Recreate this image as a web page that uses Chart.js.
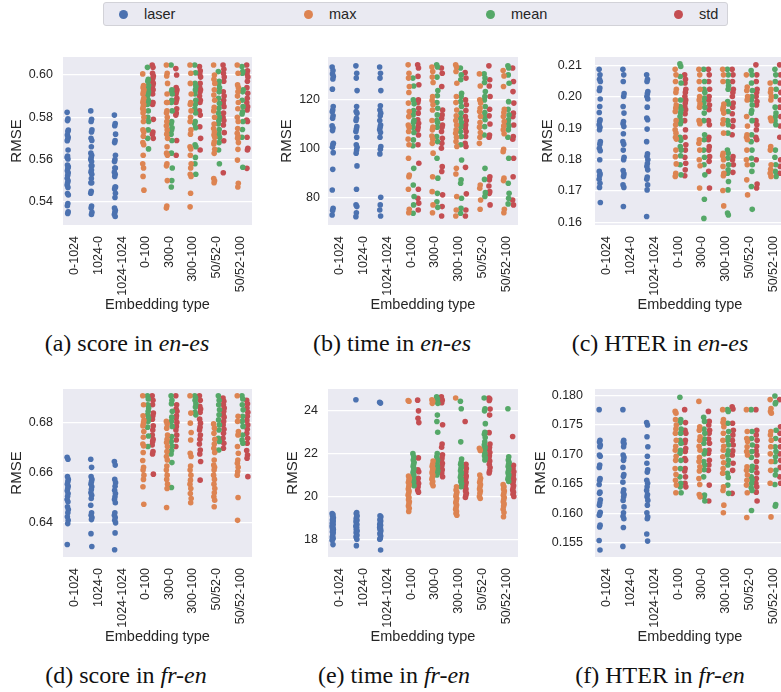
<!DOCTYPE html>
<html>
<head>
<meta charset="utf-8">
<script src="https://cdn.jsdelivr.net/npm/chart.js@4.4.0/dist/chart.umd.min.js"></script>
<style>
  html, body { margin: 0; padding: 0; background: #fff; }
  body { width: 781px; height: 692px; position: relative; overflow: hidden; font-family: "Liberation Sans", Arial, sans-serif; }
  .panel { position: absolute; }
  #leyenda { position: absolute; left: 103px; top: 2px; width: 623px; height: 22px; background: #eaeaf2; border: 1px solid #d2d2d8; border-radius: 3px; }
  #leyenda .item { position: absolute; top: 0; height: 22px; line-height: 22px; font-size: 14.5px; color: #262626; }
  #leyenda .punto { display: inline-block; width: 9px; height: 9px; border-radius: 50%; vertical-align: middle; margin-right: 16px; position: relative; top: -1px; }
  .caption { position: absolute; width: 270px; text-align: center; font-family: "Liberation Serif", "DejaVu Serif", serif; font-size: 24px; color: #111; }
</style>
</head>
<body>

<div id="leyenda"></div>

<canvas id="panelA" class="panel" width="258" height="278" style="left:0px; top:40px;"></canvas>
<canvas id="panelB" class="panel" width="254" height="278" style="left:270px; top:40px;"></canvas>
<canvas id="panelC" class="panel" width="262" height="278" style="left:527px; top:40px;"></canvas>
<canvas id="panelD" class="panel" width="258" height="278" style="left:0px; top:372px;"></canvas>
<canvas id="panelE" class="panel" width="254" height="278" style="left:270px; top:372px;"></canvas>
<canvas id="panelF" class="panel" width="262" height="278" style="left:527px; top:372px;"></canvas>

<div class="caption" style="left:-8px; top:330px;">(a) score in <i>en-es</i></div>
<div class="caption" style="left:257px; top:330px;">(b) time in <i>en-es</i></div>
<div class="caption" style="left:525px; top:330px;">(c) HTER in <i>en-es</i></div>
<div class="caption" style="left:-9px; top:662px;">(d) score in <i>fr-en</i></div>
<div class="caption" style="left:259px; top:662px;">(e) time in <i>fr-en</i></div>
<div class="caption" style="left:525px; top:662px;">(f) HTER in <i>fr-en</i></div>

<script>
// categorias del eje x y grupos (hue)
const categories = ['0-1024', '1024-0', '1024-1024', '0-100', '300-0', '300-100', '50/52-0', '50/52-100'];
const hueNames = ['laser', 'max', 'mean', 'std'];
const hueColors = ['#4c72b0', '#dd8452', '#55a868', '#c44e52'];

// ---- score, en-es ----
const scoreEnEsLaser = [
  [0.5823,0.5792,0.5784,0.5739,0.5732,0.5716,0.5705,0.5696,0.5689,0.5645,0.5616,0.5610,0.5602,0.5574,0.5566,0.5558,0.5547,0.5537,0.5526,0.5511,0.5499,0.5490,0.5479,0.5468,0.5439,0.5432,0.5392,0.5381,0.5353,0.5345],
  [0.583,0.579,0.578,0.574,0.573,0.570,0.569,0.566,0.563,0.562,0.561,0.560,0.559,0.557,0.557,0.555,0.554,0.553,0.551,0.549,0.549,0.545,0.544,0.538,0.537,0.535,0.534],
  [0.581,0.577,0.576,0.572,0.569,0.568,0.562,0.560,0.559,0.556,0.556,0.554,0.553,0.552,0.547,0.547,0.546,0.544,0.542,0.537,0.536,0.535,0.534,0.533]
];
const scoreEnEsMax = [
  [0.6005,0.595,0.594,0.593,0.592,0.591,0.589,0.588,0.587,0.586,0.585,0.584,0.583,0.582,0.580,0.578,0.574,0.573,0.571,0.568,0.567,0.562,0.558,0.556,0.552,0.5455],
  [0.6047,0.6008,0.5995,0.596,0.591,0.587,0.587,0.583,0.582,0.580,0.578,0.576,0.574,0.572,0.570,0.566,0.563,0.562,0.558,0.557,0.550,0.538,0.537],
  [0.6047,0.6008,0.596,0.591,0.587,0.586,0.583,0.580,0.578,0.574,0.572,0.566,0.565,0.562,0.558,0.556,0.553,0.552,0.544,0.5376],
  [0.6047,0.600,0.598,0.596,0.593,0.5905,0.588,0.5847,0.583,0.580,0.5768,0.5747,0.573,0.5716,0.5705,0.5684,0.5673,0.5648,0.5629,0.551,0.5499,0.549],
  [0.6047,0.6008,0.5953,0.594,0.592,0.590,0.587,0.584,0.580,0.578,0.5747,0.5724,0.571,0.570,0.568,0.5648,0.5597,0.5487,0.547]
];
const scoreEnEsMean = [
  [0.6036,0.598,0.597,0.595,0.594,0.593,0.592,0.591,0.590,0.588,0.587,0.586,0.583,0.580,0.578,0.574,0.570,0.565],
  [0.6047,0.593,0.592,0.591,0.588,0.587,0.583,0.578,0.577,0.575,0.574,0.572,0.569,0.563,0.556,0.550,0.547],
  [0.6047,0.601,0.596,0.5945,0.593,0.591,0.588,0.586,0.584,0.582,0.578,0.577,0.575,0.567,0.566,0.561,0.558,0.553],
  [0.6016,0.597,0.596,0.594,0.592,0.589,0.5866,0.5842,0.582,0.580,0.5784,0.5768,0.5742,0.572,0.5705,0.568,0.5645,0.558],
  [0.604,0.6016,0.6008,0.593,0.592,0.588,0.585,0.5826,0.5815,0.578,0.5742,0.5705,0.5563]
];
const scoreEnEsStd = [
  [0.6047,0.6036,0.6008,0.5995,0.5984,0.597,0.596,0.595,0.594,0.593,0.591,0.587,0.587,0.586,0.579,0.573,0.572,0.570],
  [0.603,0.600,0.594,0.593,0.592,0.591,0.589,0.588,0.587,0.584,0.582,0.581,0.569,0.562],
  [0.604,0.602,0.6005,0.599,0.596,0.594,0.593,0.592,0.590,0.588,0.587,0.583,0.581,0.5755,0.570,0.5645],
  [0.6047,0.6027,0.6008,0.599,0.597,0.592,0.590,0.588,0.5866,0.585,0.582,0.580,0.5784,0.5763,0.5727,0.5689,0.5537],
  [0.6047,0.602,0.6005,0.599,0.597,0.594,0.5913,0.589,0.587,0.585,0.5834,0.5787,0.578,0.5705,0.5653,0.5645,0.5558]
];
const scoreEnEsTicks = [0.54, 0.56, 0.58, 0.60];
const scoreEnEsRange = [0.529, 0.6085];

// ---- time, en-es ----
const timeEnEsLaser = [
  [133.1,131.7,130.3,129.3,128.2,124.1,117.0,115.6,114.9,113.2,112.2,109.1,108.2,107.2,102.0,101.4,100.4,98.2,91.4,83.0,75.5,74.6,72.8],
  [133.6,130.6,128.6,123.5,117.0,115.0,114.3,112.2,111.3,108.8,107.8,106.8,104.5,101.4,100.4,99.3,98.0,92.8,83.3,76.9,76.2,73.7,72.1],
  [133.1,130.6,128.6,123.5,117.3,115.6,114.3,113.2,111.3,109.5,108.6,107.5,106.4,104.5,100.7,99.6,97.7,80.0,76.9,74.8,72.4]
];
const timeEnEsMax = [
  [134.0,130.6,128.6,125.2,122.7,118.4,115.0,112.9,109.5,108.6,106.8,103.7,101.4,95.9,89.1,88.4,83.3,75.1,73.7],
  [133.1,131.3,129.0,126.8,121.1,119.5,117.7,115.6,111.3,108.6,107.5,105.0,103.7,102.0,98.0,88.4,82.3,76.9,73.7],
  [134.0,133.1,131.3,126.5,121.1,118.6,115.6,113.2,111.3,109.5,107.5,106.1,104.5,102.7,100.7,91.8,89.5,80.3,74.8,72.4],
  [130.3,125.4,119.7,118.4,116.3,115.0,112.9,110.5,108.6,106.4,104.5,102.0,85.0,83.7,78.9,75.1],
  [131.7,129.5,125.2,115.9,114.6,112.9,110.9,109.1,107.5,105.9,99.6,98.6,87.8,86.8,75.1,73.7]
];
const timeEnEsMean = [
  [128.6,125.4,119.7,118.1,115.4,113.6,111.3,110.5,108.6,106.4,103.4,101.0,91.8,85.0,80.3,76.9,73.5],
  [134.0,133.1,129.0,123.5,121.4,118.6,116.3,113.6,111.3,110.5,108.6,104.8,102.7,95.9,87.8,81.6,78.2,75.9],
  [132.7,129.9,127.9,122.4,121.1,119.0,117.0,114.3,112.2,110.5,108.8,106.8,104.8,101.4,95.2,87.1,85.7,79.6,75.5,73.5],
  [130.3,128.6,126.8,123.1,121.1,119.7,117.0,114.6,112.9,111.6,108.8,105.4,91.8,87.3,81.9,80.3],
  [133.6,132.7,129.9,126.5,119.0,115.9,113.6,111.6,110.5,109.1,107.5,104.5,95.9,85.7,81.6,79.6,77.3]
];
const timeEnEsStd = [
  [134.0,132.7,129.3,125.9,119.7,118.6,116.3,114.3,111.6,110.2,108.6,107.5,105.4,101.4,93.9,83.3,79.6,77.6,74.8],
  [132.7,130.6,125.2,115.6,113.6,112.2,109.5,108.6,106.8,104.1,102.0,100.0,92.5,90.5,81.0,76.2,72.4],
  [130.9,128.6,119.7,117.7,115.4,112.9,111.3,109.5,108.2,106.8,104.8,102.0,100.7,92.2,81.4,74.8,72.4],
  [133.6,127.9,125.4,121.1,115.9,113.2,109.9,105.4,104.5,88.4,87.1,84.6,82.3,81.6,76.9],
  [132.7,127.2,123.1,118.4,114.3,112.9,109.5,104.8,103.7,95.9,88.4,78.9,76.9]
];
const timeEnEsTicks = [80, 100, 120];
const timeEnEsRange = [68.7, 137.2];

// ---- HTER, en-es ----
const hterEnEsLaser = [
  [0.2088,0.2070,0.2056,0.2049,0.2028,0.2020,0.1993,0.1969,0.1950,0.1927,0.1921,0.1911,0.1903,0.1895,0.1857,0.1849,0.1836,0.1828,0.1799,0.1762,0.1754,0.1748,0.1737,0.1724,0.1711,0.1663],
  [0.2088,0.2070,0.2049,0.2010,0.2001,0.1969,0.1948,0.1921,0.1914,0.1905,0.1882,0.1857,0.1849,0.1830,0.1807,0.1799,0.1765,0.1754,0.1746,0.1719,0.1711,0.1650],
  [0.2070,0.2056,0.2049,0.2017,0.2010,0.2001,0.1993,0.1967,0.1932,0.1927,0.1897,0.1857,0.1818,0.1810,0.1799,0.1787,0.1778,0.1767,0.1744,0.1737,0.1719,0.1703,0.1618]
];
const hterEnEsMax = [
  [0.2088,0.2070,0.2049,0.2024,0.2014,0.1990,0.1974,0.1964,0.1953,0.1924,0.1911,0.1895,0.1884,0.1871,0.1865,0.1830,0.1809,0.1786,0.1756,0.1746],
  [0.2088,0.2070,0.2049,0.2024,0.2001,0.1990,0.1977,0.1967,0.1924,0.1914,0.1863,0.1852,0.1830,0.1799,0.1780,0.1709],
  [0.2088,0.2070,0.2049,0.1977,0.1967,0.1959,0.1948,0.1927,0.1914,0.1884,0.1820,0.1812,0.1799,0.1778,0.1756,0.1748,0.1701,0.1652],
  [0.2070,0.2031,0.2020,0.2001,0.1990,0.1937,0.1907,0.1879,0.1871,0.1863,0.1830,0.1799,0.1783,0.1735,0.1687],
  [0.2044,0.2024,0.2014,0.2001,0.1990,0.1932,0.1924,0.1841,0.1830,0.1783,0.1769,0.1756,0.1746]
];
const hterEnEsMean = [
  [0.2105,0.2097,0.2065,0.2044,0.1990,0.1969,0.1959,0.1948,0.1937,0.1924,0.1914,0.1871,0.1861,0.1841,0.1830,0.1812,0.1783,0.1751],
  [0.2088,0.2049,0.2024,0.2014,0.1996,0.1982,0.1967,0.1948,0.1924,0.1879,0.1863,0.1830,0.1807,0.1783,0.1751,0.1673,0.1612],
  [0.2088,0.2070,0.2049,0.2035,0.2024,0.1985,0.1977,0.1953,0.1924,0.1911,0.1884,0.1830,0.1820,0.1804,0.1783,0.1767,0.1756,0.1730,0.1703,0.1629,0.1623],
  [0.2084,0.2070,0.2044,0.2020,0.2001,0.1990,0.1974,0.1956,0.1948,0.1924,0.1879,0.1857,0.1830,0.1804,0.1783,0.1762,0.1714,0.1641],
  [0.2088,0.2070,0.2049,0.2024,0.2001,0.1967,0.1948,0.1937,0.1924,0.1911,0.1830,0.1807,0.1783,0.1762,0.1746]
];
const hterEnEsStd = [
  [0.2070,0.2056,0.2044,0.2024,0.2014,0.2001,0.1990,0.1980,0.1969,0.1959,0.1946,0.1924,0.1895,0.1871,0.1847,0.1830,0.1807,0.1788,0.1767,0.1748],
  [0.2088,0.2070,0.2049,0.2024,0.2001,0.1990,0.1974,0.1959,0.1924,0.1911,0.1871,0.1863,0.1841,0.1830,0.1809,0.1794,0.1762,0.1709],
  [0.2088,0.2070,0.2049,0.2024,0.2014,0.2001,0.1980,0.1967,0.1946,0.1924,0.1905,0.1879,0.1809,0.1799,0.1783,0.1759],
  [0.2102,0.2070,0.2049,0.2024,0.2014,0.2001,0.1985,0.1974,0.1924,0.1911,0.1895,0.1871,0.1863,0.1799,0.1722,0.1709],
  [0.2102,0.2070,0.2044,0.2014,0.1990,0.1967,0.1937,0.1907,0.1871,0.1799,0.1778,0.1756]
];
const hterEnEsTicks = [0.16, 0.17, 0.18, 0.19, 0.20, 0.21];
const hterEnEsRange = [0.1591, 0.2127];

// ---- score, fr-en ----
const scoreFrEnLaser = [
  [0.666,0.6652,0.6583,0.6572,0.6563,0.6553,0.6545,0.6536,0.6527,0.6516,0.6505,0.6492,0.6483,0.6463,0.6452,0.6439,0.6423,0.6409,0.6396,0.6313],
  [0.6652,0.662,0.6583,0.6572,0.6563,0.6553,0.6543,0.6532,0.6519,0.6509,0.6496,0.6469,0.6439,0.6429,0.642,0.6412,0.6356,0.6305],
  [0.6643,0.6629,0.6572,0.6559,0.6545,0.6529,0.6516,0.6503,0.6492,0.6479,0.6439,0.6429,0.642,0.6409,0.6399,0.6359,0.6292]
];
const scoreFrEnMax = [
  [0.6905,0.6869,0.6825,0.6807,0.6796,0.6785,0.6763,0.674,0.6713,0.6705,0.6679,0.6647,0.662,0.6609,0.6589,0.6572,0.6543,0.6473],
  [0.6803,0.6793,0.6776,0.6749,0.6732,0.6719,0.6703,0.6683,0.6663,0.6649,0.6625,0.6609,0.6589,0.6572,0.6553,0.6536,0.646],
  [0.6905,0.6836,0.6796,0.6759,0.6729,0.6676,0.6663,0.6625,0.6609,0.6589,0.6569,0.6553,0.6536,0.6516,0.6496,0.6479],
  [0.6793,0.6776,0.6756,0.6732,0.6713,0.6696,0.6679,0.6649,0.6629,0.662,0.6609,0.6589,0.6572,0.6553,0.6536,0.6519,0.6503,0.6489,0.6463],
  [0.6905,0.6823,0.6803,0.6763,0.6749,0.6703,0.6676,0.6649,0.6636,0.662,0.6603,0.6589,0.65,0.6409]
];
const scoreFrEnMean = [
  [0.6905,0.6892,0.6869,0.6856,0.6843,0.6829,0.6816,0.6803,0.678,0.6745,0.6703],
  [0.6905,0.6887,0.6873,0.6843,0.682,0.6803,0.6783,0.6743,0.6723,0.6705,0.6687,0.6673,0.6639,0.654],
  [0.6905,0.6896,0.6887,0.6873,0.686,0.6839,0.6829],
  [0.6905,0.6887,0.6869,0.6849,0.6829,0.6809,0.6789,0.6769,0.6736,0.6723,0.6689],
  [0.6905,0.6892,0.6869,0.6849,0.6823,0.6803,0.6783,0.6749,0.6729,0.6716]
];
const scoreFrEnStd = [
  [0.6905,0.6887,0.6869,0.6836,0.6825,0.6812,0.6785,0.6769,0.6749,0.6732,0.6723,0.6709,0.6683,0.6673,0.6593],
  [0.6905,0.6869,0.6852,0.6843,0.6825,0.6816,0.6799,0.6783,0.6769,0.6749,0.6729,0.6703],
  [0.6905,0.6887,0.6863,0.6852,0.6839,0.6812,0.6796,0.678,0.6769,0.6749,0.6732,0.6713,0.6689,0.6673,0.6643,0.6569],
  [0.6896,0.6883,0.6869,0.6856,0.6843,0.6829,0.682,0.6803,0.6789,0.6772,0.6756,0.6736,0.6716,0.6696],
  [0.6887,0.6873,0.6856,0.6839,0.6823,0.6807,0.6789,0.6772,0.6756,0.6736,0.6716,0.6687,0.6669,0.6656,0.6583]
];
const scoreFrEnTicks = [0.64, 0.66, 0.68];
const scoreFrEnRange = [0.6263, 0.6932];

// ---- time, fr-en ----
const timeFrEnLaser = [
  [19.2,19.15,19.1,19.0,18.95,18.9,18.85,18.8,18.75,18.7,18.65,18.6,18.55,18.5,18.45,18.4,18.35,18.3,18.2,18.1,18.05,18.0,17.95,17.75],
  [24.52,19.25,19.2,19.1,19.05,18.95,18.9,18.85,18.8,18.7,18.65,18.6,18.55,18.45,18.4,18.35,18.3,18.2,18.15,18.1,18.0,17.7],
  [24.4,24.36,19.1,19.05,18.95,18.9,18.85,18.75,18.7,18.65,18.6,18.55,18.5,18.45,18.4,18.3,18.25,18.15,18.05,18.0,17.5]
];
const timeFrEnMax = [
  [24.48,24.45,20.95,20.85,20.75,20.65,20.55,20.45,20.35,20.25,20.15,20.05,19.95,19.85,19.75,19.65,19.55,19.45,19.3],
  [24.52,24.45,24.35,21.65,21.5,21.4,21.3,21.2,21.1,21.0,20.9,20.8,20.7,20.6,20.5],
  [24.6,20.45,20.3,20.2,20.1,20.0,19.9,19.8,19.7,19.6,19.5,19.4,19.3,19.2,19.12],
  [22.25,22.15,21.0,20.85,20.75,20.65,20.55,20.45,20.35,20.25,20.15,20.0,19.9],
  [20.55,20.45,20.35,20.25,20.15,20.05,19.95,19.85,19.75,19.65,19.55,19.4,19.25,19.05]
];
const timeFrEnMean = [
  [22.0,21.85,21.7,21.6,21.5,21.4,21.3,21.2,21.1,21.0,20.9,20.8,20.7,20.6,20.5],
  [24.65,24.55,24.45,24.35,23.8,23.5,23.0,22.0,21.85,21.7,21.6,21.5,21.4,21.3,21.2,21.1,21.0],
  [24.45,24.1,22.55,21.75,21.6,21.5,21.4,21.3,21.2,21.1,21.0,20.9,20.8,20.7,20.6,20.45],
  [24.6,24.1,24.0,23.4,23.0,22.9,22.75,22.55,22.4,22.3,22.2,22.1,22.0,21.9,21.8,21.7],
  [24.1,21.85,21.7,21.6,21.5,21.4,21.3,21.2,21.1,21.0,20.9,20.8,20.7]
];
const timeFrEnStd = [
  [24.5,24.0,23.65,23.45,21.8,21.25,21.15,20.85,20.7,20.6,20.45,20.3,20.2],
  [24.65,24.5,24.38,23.35,22.45,22.3,21.95,21.8,21.7,21.55,21.45,21.35,21.25,21.1,20.92],
  [23.5,21.5,21.4,21.3,21.15,21.05,20.95,20.85,20.75,20.65,20.55,20.45,20.35,20.25,20.15,20.05,19.95],
  [24.6,24.55,24.48,24.08,23.8,22.98,22.45,22.3,22.2,22.05,21.9,21.8,21.65,21.5,21.35,21.2,21.1],
  [22.8,21.45,21.3,21.15,21.0,20.9,20.8,20.7,20.6,20.5,20.4,20.3,20.2,20.1,20.0]
];
const timeFrEnTicks = [18, 20, 22, 24];
const timeFrEnRange = [17.17, 25.02];

// ---- HTER, fr-en ----
const hterFrEnLaser = [
  [0.1776,0.1724,0.1721,0.1716,0.1713,0.1699,0.1697,0.1682,0.1678,0.1659,0.1656,0.1649,0.1636,0.1634,0.1623,0.1618,0.1614,0.1602,0.1599,0.1597,0.1580,0.1577,0.1554,0.1538],
  [0.1776,0.1724,0.1721,0.1718,0.1713,0.1699,0.1695,0.1690,0.1678,0.1666,0.1663,0.1653,0.1640,0.1636,0.1632,0.1628,0.1622,0.1611,0.1601,0.1595,0.1591,0.1576,0.1544],
  [0.1754,0.1750,0.1730,0.1713,0.1697,0.1685,0.1674,0.1670,0.1656,0.1651,0.1645,0.1639,0.1632,0.1628,0.1622,0.1614,0.1601,0.1594,0.1591,0.1565,0.1553]
];
const hterFrEnMax = [
  [0.1773,0.1770,0.1759,0.1750,0.1743,0.1736,0.1724,0.1714,0.1707,0.1697,0.1690,0.1676,0.1666,0.1656,0.1648,0.1635],
  [0.1790,0.1747,0.1741,0.1730,0.1724,0.1714,0.1707,0.1695,0.1688,0.1679,0.1672,0.1659,0.1649,0.1632,0.1628],
  [0.1776,0.1759,0.1754,0.1747,0.1736,0.1724,0.1714,0.1707,0.1696,0.1686,0.1676,0.1668,0.1645,0.1639,0.1614,0.1601],
  [0.1776,0.1739,0.1727,0.1722,0.1713,0.1705,0.1699,0.1679,0.1673,0.1665,0.1656,0.1648,0.1635,0.1593],
  [0.1793,0.1778,0.1773,0.1770,0.1739,0.1733,0.1724,0.1713,0.1701,0.1688,0.1673,0.1651,0.1594]
];
const hterFrEnMean = [
  [0.1797,0.1759,0.1754,0.1743,0.1736,0.1724,0.1719,0.1707,0.1702,0.1690,0.1676,0.1662,0.1651,0.1645,0.1635],
  [0.1763,0.1756,0.1743,0.1736,0.1726,0.1719,0.1706,0.1701,0.1688,0.1682,0.1674,0.1662,0.1631,0.1628,0.1621],
  [0.1776,0.1773,0.1753,0.1739,0.1729,0.1724,0.1716,0.1706,0.1699,0.1690,0.1682,0.1668,0.1661,0.1648,0.1634],
  [0.1776,0.1739,0.1727,0.1716,0.1705,0.1695,0.1680,0.1673,0.1662,0.1657,0.1651,0.1644,0.1639,0.1605],
  [0.1799,0.1788,0.1786,0.1741,0.1727,0.1713,0.1705,0.1696,0.1688,0.1673,0.1665,0.1649,0.1615,0.1612]
];
const hterFrEnStd = [
  [0.1776,0.1754,0.1741,0.1736,0.1724,0.1720,0.1710,0.1705,0.1693,0.1690,0.1676,0.1672,0.1662,0.1651,0.1645],
  [0.1773,0.1756,0.1750,0.1741,0.1736,0.1726,0.1719,0.1707,0.1702,0.1690,0.1682,0.1673,0.1648,0.1621],
  [0.1781,0.1777,0.1753,0.1741,0.1733,0.1724,0.1716,0.1706,0.1699,0.1685,0.1673,0.1634],
  [0.1776,0.1741,0.1733,0.1724,0.1714,0.1706,0.1699,0.1688,0.1678,0.1669,0.1659,0.1651,0.1645,0.1636,0.1621],
  [0.1793,0.1747,0.1736,0.1724,0.1713,0.1701,0.1690,0.1678,0.1662,0.1651]
];
const hterFrEnTicks = [0.155, 0.160, 0.165, 0.170, 0.175, 0.180];
const hterFrEnRange = [0.1526, 0.1811];

// ---- dibujo ----
const FUENTE = '"Liberation Sans", Arial, sans-serif';
const TEXTO = '#262626';

// desplazamiento de cada grupo dentro de la categoria (dodge) y jitter fijo
const dodge = [-0.3, -0.1, 0.1, 0.3];
function jitter(i) {
  return (((i * 7) % 11) - 5) / 5 * 0.025;
}

function puntos(grupos, primeraCat, hue) {
  var out = [];
  grupos.forEach(function(valores, k) {
    valores.forEach(function(v, i) {
      out.push({ x: primeraCat + k + dodge[hue] + jitter(i), y: v });
    });
  });
  return out;
}

const fondoPlugin = {
  id: 'fondo',
  beforeDraw(chart) {
    const a = chart.chartArea;
    const ctx = chart.ctx;
    ctx.save();
    ctx.fillStyle = '#eaeaf2';
    ctx.fillRect(a.left, a.top, a.right - a.left, a.bottom - a.top);
    ctx.restore();
  }
};

function dibujarPanel(p) {
  var series = [p.laser, p.max, p.mean, p.std];
  var datasets = series.map(function(grupos, h) {
    return {
      label: hueNames[h],
      data: puntos(grupos, h === 0 ? 0 : 3, h),
      backgroundColor: hueColors[h],
      borderWidth: 0,
      pointRadius: 2.8,
      pointHoverRadius: 2.8
    };
  });

  new Chart(document.getElementById(p.id), {
    type: 'scatter',
    data: { datasets: datasets },
    plugins: [fondoPlugin],
    options: {
      responsive: false,
      animation: false,
      events: [],
      layout: { padding: { top: 17, right: p.padRight, left: 0, bottom: 0 } },
      plugins: { legend: { display: false }, tooltip: { enabled: false } },
      scales: {
        x: {
          type: 'linear',
          min: -0.5,
          max: 7.5,
          afterBuildTicks: function(eje) { eje.ticks = categories.map(function(c, i) { return { value: i }; }); },
          // alto fijo del eje y sin margen extra por las etiquetas giradas
          afterFit: function(eje) { eje.height = 93; eje.paddingLeft = 0; eje.paddingRight = 0; },
          grid: { display: false, drawTicks: false },
          border: { display: false },
          ticks: {
            autoSkip: false, minRotation: 90, maxRotation: 90, padding: 11,
            color: TEXTO, font: { family: FUENTE, size: 12.5 },
            callback: function(v) { return categories[v]; }
          },
          title: {
            display: true, text: 'Embedding type', color: TEXTO,
            font: { family: FUENTE, size: 14.5 }, padding: { top: 4, bottom: 4 }
          }
        },
        y: {
          min: p.range[0],
          max: p.range[1],
          afterBuildTicks: function(eje) { eje.ticks = p.ticks.map(function(v) { return { value: v }; }); },
          afterFit: function(eje) { eje.width = p.axisW; eje.paddingTop = 0; eje.paddingBottom = 0; },
          grid: { color: '#ffffff', lineWidth: 1.2, drawTicks: false },
          border: { display: false },
          ticks: {
            padding: p.tickPad, color: TEXTO, font: { family: FUENTE, size: 12.5 },
            callback: function(v) { return v.toFixed(p.digits); }
          },
          title: {
            display: true, text: 'RMSE', color: TEXTO,
            font: { family: FUENTE, size: 15 }, padding: { top: p.titlePad, bottom: 0 }
          }
        }
      }
    }
  });
}

function dibujarLeyenda() {
  var caja = document.getElementById('leyenda');
  var posiciones = [15, 200, 382, 570];
  hueNames.forEach(function(nombre, h) {
    var item = document.createElement('div');
    item.className = 'item';
    item.style.left = posiciones[h] + 'px';
    item.innerHTML = '<span class="punto" style="background:' + hueColors[h] + '"></span>' + nombre;
    caja.appendChild(item);
  });
}

window.onload = function() {
  dibujarLeyenda();
  var panels = [
    { id: 'panelA', laser: scoreEnEsLaser, max: scoreEnEsMax, mean: scoreEnEsMean, std: scoreEnEsStd,
      ticks: scoreEnEsTicks, range: scoreEnEsRange, digits: 2, axisW: 63, tickPad: 10, titlePad: 8, padRight: 6 },
    { id: 'panelB', laser: timeEnEsLaser, max: timeEnEsMax, mean: timeEnEsMean, std: timeEnEsStd,
      ticks: timeEnEsTicks, range: timeEnEsRange, digits: 0, axisW: 58, tickPad: 8, titlePad: 8, padRight: 6 },
    { id: 'panelC', laser: hterEnEsLaser, max: hterEnEsMax, mean: hterEnEsMean, std: hterEnEsStd,
      ticks: hterEnEsTicks, range: hterEnEsRange, digits: 2, axisW: 68, tickPad: 13, titlePad: 12, padRight: 4 },
    { id: 'panelD', laser: scoreFrEnLaser, max: scoreFrEnMax, mean: scoreFrEnMean, std: scoreFrEnStd,
      ticks: scoreFrEnTicks, range: scoreFrEnRange, digits: 2, axisW: 63, tickPad: 10, titlePad: 8, padRight: 6 },
    { id: 'panelE', laser: timeFrEnLaser, max: timeFrEnMax, mean: timeFrEnMean, std: timeFrEnStd,
      ticks: timeFrEnTicks, range: timeFrEnRange, digits: 0, axisW: 58, tickPad: 10, titlePad: 14, padRight: 6 },
    { id: 'panelF', laser: hterFrEnLaser, max: hterFrEnMax, mean: hterFrEnMean, std: hterFrEnStd,
      ticks: hterFrEnTicks, range: hterFrEnRange, digits: 3, axisW: 68, tickPad: 12, titlePad: 5, padRight: 4 }
  ];
  panels.forEach(dibujarPanel);
};
</script>
</body>
</html>
